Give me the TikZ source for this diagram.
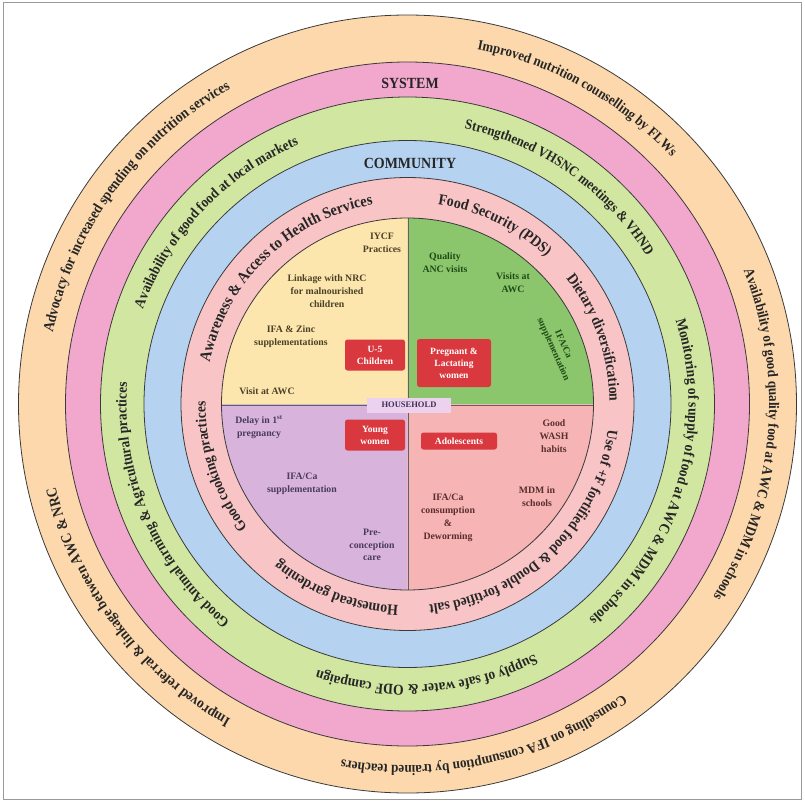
\documentclass[tikz,border=0pt]{standalone}
\usepackage{fontspec}
\setmainfont{Liberation Serif}
\newfontfamily\bandfont[FakeStretch=0.9]{Liberation Serif}
\usetikzlibrary{decorations.text}

\definecolor{framegray}{HTML}{9A9A9A}
\definecolor{ringline}{HTML}{3A3A3A}
\definecolor{outerband}{HTML}{FCD8AC}
\definecolor{systemband}{HTML}{F2A7CD}
\definecolor{greenband}{HTML}{D1E6A0}
\definecolor{blueband}{HTML}{B5D3F0}
\definecolor{innerband}{HTML}{F8C4C6}
\definecolor{quadyellow}{HTML}{FDE5AE}
\definecolor{quadgreen}{HTML}{8CC66C}
\definecolor{quadlilac}{HTML}{D8B4DD}
\definecolor{quadpink}{HTML}{F6B4B4}
\definecolor{boxred}{HTML}{D8383E}
\definecolor{hhbox}{HTML}{ECD2EE}
\definecolor{labelink}{HTML}{262626}
\definecolor{inkyellow}{HTML}{4A4226}
\definecolor{inkgreen}{HTML}{1F4A14}
\definecolor{inklilac}{HTML}{4A3A5C}
\definecolor{inkpink}{HTML}{5A2E2E}
\definecolor{hhink}{HTML}{3D2F55}

\tikzset{
  band/.style={draw=ringline, line width=0.8pt},
  divider/.style={draw=ringline!80, line width=0.7pt},
  levellabel/.style={font=\bandfont\bfseries\fontsize{15.5}{17}\selectfont, text=labelink, inner sep=0pt},
  quadtext/.style={font=\bfseries\fontsize{9.8}{12.8}\selectfont, align=center, inner sep=0pt},
  redbox/.style={fill=boxred, text=white, rounded corners=2.5pt, align=center,
    font=\bfseries\fontsize{9.5}{12}\selectfont, inner sep=1pt},
  hhlabel/.style={fill=hhbox, text=hhink, font=\bfseries\fontsize{8.5}{10}\selectfont,
    minimum width=84pt, minimum height=15pt, inner sep=0pt},
}

% curved label: baseline radius, middle angle, half span, font size, text
\newcommand\ringlabel[5]{%
  \path[decorate, decoration={text along path, text align=center, text color=labelink,
    text={|\bandfont\fontsize{#4}{#4}\selectfont\bfseries|#5}}]
    (#2+#3:#1) arc[start angle=#2+#3, end angle=#2-#3, radius=#1];}

\begin{document}
\begin{tikzpicture}[x=1pt, y=1pt]
\useasboundingbox (-407.5,-400) rectangle (397.5,404);
\draw[framegray, line width=1pt] (-403.5,-395) rectangle (393.5,401);

% nested bands, outermost first
\filldraw[band, fill=outerband]  (0,0) circle[radius=389];
\filldraw[band, fill=systemband] (0,0) circle[radius=342];
\filldraw[band, fill=greenband]  (0,0) circle[radius=307];
\filldraw[band, fill=blueband]   (0,0) circle[radius=263.5];
\filldraw[band, fill=innerband]  (0,0) circle[radius=226.5];

% household quadrants
\fill[quadgreen]  (0,0) -- (0:186)   arc[start angle=0,   end angle=90,  radius=186] -- cycle;
\fill[quadyellow] (0,0) -- (90:186)  arc[start angle=90,  end angle=180, radius=186] -- cycle;
\fill[quadlilac]  (0,0) -- (180:186) arc[start angle=180, end angle=270, radius=186] -- cycle;
\fill[quadpink]   (0,0) -- (270:186) arc[start angle=270, end angle=360, radius=186] -- cycle;
\coordinate (qtop) at (0.5,186);
\coordinate (qbot) at (0.5,-186);
\coordinate (qleft) at (-186,-1);
\coordinate (qright) at (186,-1);
\draw[divider] (qtop) -- (qbot);
\draw[divider] (qleft) -- (qright);
\draw[band] (0,0) circle[radius=186];

% system band labels
\ringlabel{361.5}{61}{80}{14.3}{Improved nutrition counselling by FLWs}
\ringlabel{361.5}{144}{80}{15}{Advocacy for increased spending on nutrition services}
\ringlabel{361.5}{-5.3}{80}{14.6}{Availability of good quality food at AWC {\&} MDM in schools}
\ringlabel{361.5}{-77}{80}{14.6}{Counselling on IFA consumption by trained teachers}
\ringlabel{361.5}{217}{80}{15}{Improved referral {\&} linkage between AWC {\&} NRC}

% community band labels
\ringlabel{281}{55}{80}{14.3}{Strengthened VHSNC meetings {\&} VHND}
\ringlabel{281}{136.5}{80}{14.7}{Availability of good food at local markets}
\ringlabel{281}{-16.2}{80}{15}{Monitoring of supply of food at AWC {\&} MDM in schools}
\ringlabel{281}{-85.9}{80}{15}{Supply of safe water {\&} ODF campaign}
\ringlabel{281}{203.2}{80}{14.9}{Good Animal farming {\&} Agricultural practices}

% household band labels
\ringlabel{202}{134}{80}{16}{Awareness {\&} Access to Health Services}
\ringlabel{202}{64}{80}{15.5}{Food Security (PDS)}
\ringlabel{202}{19.5}{80}{15.4}{Dietary diversification}
\ringlabel{202}{-45.6}{80}{15.1}{Use of +F fortified food {\&} Double fortified salt}
\ringlabel{202}{-111}{80}{15.4}{Homestead gardening}
\ringlabel{202}{198.5}{80}{15}{Good cooking practices}

% level names
\node[levellabel] (system) at (2.5,321) {SYSTEM};
\node[levellabel] (community) at (2.5,241) {COMMUNITY};

% under-five children
\node[quadtext, text=inkyellow] (iycf) at (-25.5,161) {IYCF\\Practices};
\node[quadtext, text=inkyellow] (nrc) at (-80.5,113) {Linkage with NRC\\for malnourished\\children};
\node[quadtext, text=inkyellow] (zinc) at (-116.5,67) {IFA \& Zinc\\supplementations};
\node[quadtext, text=inkyellow] (visitc) at (-140.5,13) {Visit at AWC};
\node[redbox, minimum width=60pt, minimum height=31pt] (u5) at (-32.5,49) {U-5\\Children};

% pregnant and lactating women
\node[quadtext, text=inkgreen] (anc) at (37.5,141) {Quality\\ANC visits};
\node[quadtext, text=inkgreen] (visitp) at (105.5,121) {Visits at\\AWC};
\node[quadtext, text=inkgreen, rotate=-66, font=\bfseries\fontsize{9.5}{11}\selectfont] (ifap) at (150.5,57) {IFA/Ca\\supplementation};
\node[redbox, minimum width=74pt, minimum height=48pt] (plw) at (46.5,41) {Pregnant \&\\Lactating\\women};

% young women
\node[quadtext, text=inklilac] (delay) at (-148.5,-23) {Delay in 1\textsuperscript{st}\\pregnancy};
\node[quadtext, text=inklilac] (ifay) at (-105.5,-80) {IFA/Ca\\supplementation};
\node[quadtext, text=inklilac] (precon) at (-35.5,-141) {Pre-\\conception\\care};
\node[redbox, minimum width=60pt, minimum height=31pt] (yw) at (-32.5,-31) {Young\\women};

% adolescents
\node[quadtext, text=inkpink] (wash) at (146.5,-32) {Good\\WASH\\habits};
\node[quadtext, text=inkpink] (mdm) at (129.5,-93) {MDM in\\schools};
\node[quadtext, text=inkpink] (ifaa) at (40.5,-114) {IFA/Ca\\consumption\\\&\\Deworming};
\node[redbox, minimum width=76pt, minimum height=17pt] (adol) at (51.5,-37) {Adolescents};

\node[hhlabel] (household) at (1.5,-1) {HOUSEHOLD};
\end{tikzpicture}
\end{document}
